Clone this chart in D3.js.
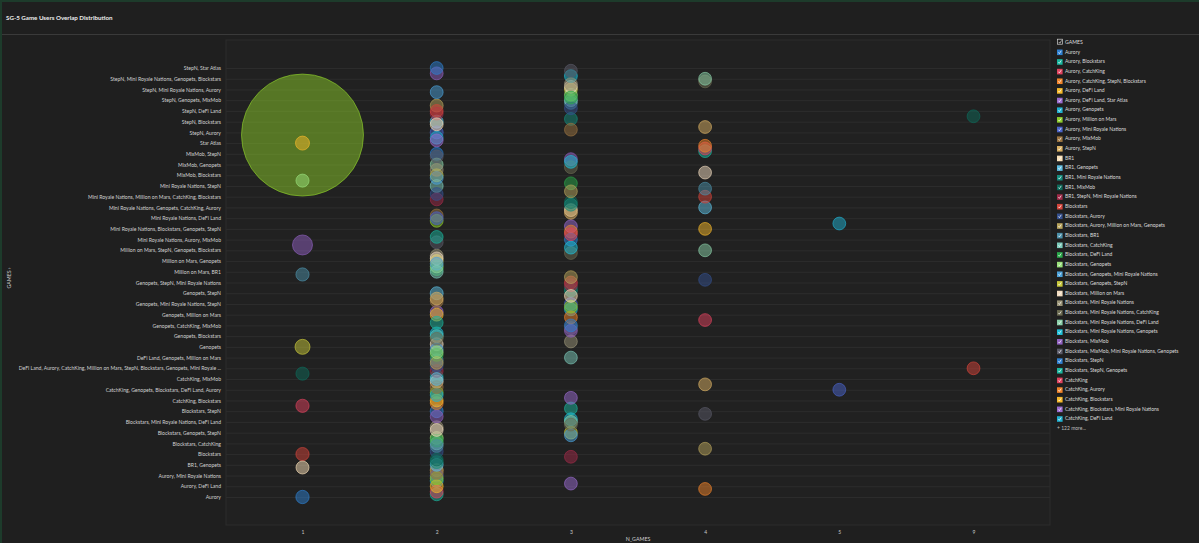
<!DOCTYPE html>
<html><head><meta charset="utf-8">
<script src="https://cdn.jsdelivr.net/npm/d3@7"></script>
<style>
html,body{margin:0;padding:0;background:#1f1f1f;}
svg{display:block;font-family:Lato,"Open Sans",sans-serif;}
</style></head>
<body><svg id="chart" width="1199" height="543"></svg>
<script>
const chartTitle = "SG-5 Game Users Overlap Distribution";
const xTicks = ["1","2","3","4","5","9"];
const games = [
"Aurory","Aurory, Blockstars","Aurory, CatchKing","Aurory, CatchKing, StepN, Blockstars","Aurory, DeFi Land",
"Aurory, DeFi Land, Star Atlas","Aurory, Genopets","Aurory, Million on Mars","Aurory, Mini Royale Nations","Aurory, MixMob",
"Aurory, StepN","BR1","BR1, Genopets","BR1, Mini Royale Nations","BR1, MixMob",
"BR1, StepN, Mini Royale Nations","Blockstars","Blockstars, Aurory","Blockstars, Aurory, Million on Mars, Genopets","Blockstars, BR1",
"Blockstars, CatchKing","Blockstars, DeFi Land","Blockstars, Genopets","Blockstars, Genopets, Mini Royale Nations","Blockstars, Genopets, StepN",
"Blockstars, Million on Mars","Blockstars, Mini Royale Nations","Blockstars, Mini Royale Nations, CatchKing","Blockstars, Mini Royale Nations, DeFi Land","Blockstars, Mini Royale Nations, Genopets",
"Blockstars, MixMob","Blockstars, MixMob, Mini Royale Nations, Genopets","Blockstars, StepN","Blockstars, StepN, Genopets","CatchKing",
"CatchKing, Aurory","CatchKing, Blockstars","CatchKing, Blockstars, Mini Royale Nations","CatchKing, DeFi Land","CatchKing, Genopets",
"CatchKing, Genopets, Blockstars, DeFi Land, Aurory","CatchKing, Million on Mars","CatchKing, Million on Mars, StepN, Genopets","CatchKing, Mini Royale Nations","CatchKing, MixMob",
"CatchKing, StepN","DeFi Land","DeFi Land, Aurory","DeFi Land, Aurory, CatchKing, Million on Mars, StepN, Blockstars, Genopets, Mini Royale Nations, MixMob","DeFi Land, Blockstars",
"DeFi Land, CatchKing","DeFi Land, Genopets","DeFi Land, Genopets, Million on Mars","DeFi Land, Mini Royale Nations","DeFi Land, MixMob",
"DeFi Land, StepN","Genopets","Genopets, Aurory","Genopets, Aurory, StepN","Genopets, BR1",
"Genopets, Blockstars","Genopets, CatchKing","Genopets, CatchKing, Aurory","Genopets, CatchKing, Blockstars","Genopets, CatchKing, MixMob",
"Genopets, DeFi Land","Genopets, DeFi Land, Blockstars, Aurory","Genopets, DeFi Land, StepN","Genopets, Million on Mars","Genopets, Mini Royale Nations",
"Genopets, Mini Royale Nations, Aurory","Genopets, Mini Royale Nations, MixMob","Genopets, Mini Royale Nations, StepN","Genopets, MixMob","Genopets, Star Atlas",
"Genopets, Star Atlas, StepN","Genopets, StepN","Genopets, StepN, Aurory","Genopets, StepN, Blockstars","Genopets, StepN, CatchKing",
"Genopets, StepN, Mini Royale Nations","Genopets, StepN, MixMob, Aurory","Genopets, StepN, Star Atlas","Million on Mars","Million on Mars, BR1",
"Million on Mars, Blockstars","Million on Mars, CatchKing","Million on Mars, DeFi Land","Million on Mars, Genopets","Million on Mars, Mini Royale Nations",
"Million on Mars, StepN","Million on Mars, StepN, Aurory","Million on Mars, StepN, Genopets, Blockstars","Million on Mars, StepN, MixMob","Mini Royale Nations",
"Mini Royale Nations, Aurory","Mini Royale Nations, Aurory, MixMob","Mini Royale Nations, BR1","Mini Royale Nations, BR1, StepN","Mini Royale Nations, Blockstars, Aurory",
"Mini Royale Nations, Blockstars, Genopets, StepN","Mini Royale Nations, Blockstars, StepN","Mini Royale Nations, Blockstars, StepN, Genopets, Aurory","Mini Royale Nations, CatchKing","Mini Royale Nations, DeFi Land",
"Mini Royale Nations, Genopets","Mini Royale Nations, Genopets, Aurory","Mini Royale Nations, Genopets, Blockstars","Mini Royale Nations, Genopets, CatchKing, Aurory","Mini Royale Nations, Genopets, MixMob",
"Mini Royale Nations, Genopets, StepN","Mini Royale Nations, Million on Mars","Mini Royale Nations, Million on Mars, CatchKing, Blockstars","Mini Royale Nations, MixMob","Mini Royale Nations, MixMob, StepN",
"Mini Royale Nations, MixMob, StepN, Genopets","Mini Royale Nations, StepN","Mini Royale Nations, StepN, Aurory","MixMob","MixMob, Aurory",
"MixMob, Blockstars","MixMob, Blockstars, Genopets, StepN","MixMob, DeFi Land","MixMob, DeFi Land, StepN","MixMob, Genopets",
"MixMob, Genopets, Aurory","MixMob, Genopets, StepN","MixMob, Mini Royale Nations","MixMob, StepN","MixMob, StepN, Aurory, Genopets",
"MixMob, StepN, Blockstars, Genopets","MixMob, StepN, Genopets, Aurory","Star Atlas","Star Atlas, Aurory","Star Atlas, StepN",
"StepN","StepN, Aurory","StepN, Aurory, Genopets","StepN, Aurory, MixMob, Genopets","StepN, BR1",
"StepN, Blockstars","StepN, Blockstars, Genopets","StepN, Blockstars, Mini Royale Nations, Genopets, Aurory, CatchKing, DeFi Land, Million on Mars, MixMob","StepN, CatchKing","StepN, DeFi Land",
"StepN, DeFi Land, Aurory","StepN, Genopets","StepN, Genopets, Aurory","StepN, Genopets, MixMob","StepN, Genopets, Star Atlas",
"StepN, Million on Mars, Genopets","StepN, Mini Royale Nations","StepN, Mini Royale Nations, Aurory","StepN, Mini Royale Nations, Blockstars","StepN, Mini Royale Nations, DeFi Land",
"StepN, Mini Royale Nations, Genopets, Aurory","StepN, Mini Royale Nations, Genopets, Blockstars","StepN, Mini Royale Nations, MixMob","StepN, MixMob","StepN, MixMob, Genopets",
"StepN, Star Atlas"
];
const nGames = [
1,2,2,4,2, 3,2,2,2,2, 2,1,2,2,2, 3,1,2,4,2, 2,2,2,3,3, 2,2,3,3,3, 2,4,2,3,1, 2,2,3,2,2,
5,2,4,2,2, 2,1,2,9,2, 2,2,3,2,2, 2,1,2,3,2, 2,2,3,3,3, 2,4,3,2,2, 3,3,3,2,2, 3,2,3,3,3,
3,4,3,1,2, 2,2,2,2,2, 2,3,4,3,1, 2,3,2,3,3, 4,3,5,2,2, 2,3,3,4,3, 3,2,4,2,3, 4,2,3,1,2,
2,4,2,3,2, 3,3,2,2,4, 4,4,1,2,2, 1,2,3,4,2, 2,3,9,2,2, 3,2,3,3,3, 3,2,3,3,3, 4,4,3,2,3,
2
];
const users = [
110,24,18,3,15, 4,30,12,20,9, 26,40,8,7,5, 2,95,22,2,6, 14,10,28,3,4, 9,16,2,3,4, 11,1,33,5,85, 13,12,3,7,10,
1,6,1,9,5, 11,70,9,1,8, 6,14,2,7,4, 12,500,19,4,6, 26,15,3,4,2, 11,1,3,13,17, 4,2,5,8,6, 2,38,6,5,3,
4,1,2,90,5, 10,7,6,12,9, 15,3,1,2,1925, 14,3,6,2,4, 1,5,1,9,8, 16,3,4,1,2, 3,8,1,7,2, 1,21,5,60,8,
10,1,5,2,11, 2,3,9,17,1, 1,1,260,6,9, 120000,34,5,1,8, 40,6,1,14,11, 3,29,6,4,2, 3,18,5,3,2, 1,1,3,12,2,
7
];
const palette = ["#2e7fd0","#1ab59e","#e0425e","#f0832a","#f5b82a","#9a6bd0","#1fb0d0","#8ccc2a",
"#4a63c9","#9c7440","#d9b063","#f9e0b8","#5dbde0","#138c7c","#0d6a5a","#a02a48",
"#d4443a","#34508e","#b8a45c","#4b8fa8","#7ccaba","#2aa84a","#98e07a","#4aa0d8",
"#c8c83a","#f2dcc0","#9a9478","#6a6a50","#8ad0a8","#20c0d8","#9060c0","#5a5a68"];
const legendShown = 39;

const svg = d3.select("#chart");
const W = 1199, H = 543;
svg.append("rect").attr("width", W).attr("height", H).attr("fill", "#1f1f1f");
svg.append("rect").attr("x", 0).attr("y", 0).attr("width", 2).attr("height", H).attr("fill", "#1d3b2b");
svg.append("rect").attr("x", 0).attr("y", 0).attr("width", W).attr("height", 2).attr("fill", "#1d3b2b");
svg.append("text").attr("x", 6).attr("y", 20).attr("fill", "#ececec")
  .attr("font-size", 6.2).attr("font-weight", 700).text(chartTitle);
svg.append("line").attr("x1", 2).attr("x2", W).attr("y1", 34.5).attr("y2", 34.5)
  .attr("stroke", "#3a3a3a").attr("stroke-width", 1);

const P = {l: 226, r: 1050, t: 40, b: 525};
svg.append("rect").attr("x", P.l).attr("y", P.t).attr("width", P.r - P.l).attr("height", P.b - P.t)
  .attr("fill", "#212121").attr("stroke", "#2c2c2c").attr("stroke-width", 1);

const x = d3.scalePoint().domain(xTicks).range([P.l, P.r]).padding(0.57);
const y = d3.scalePoint().domain(games).range([P.b, P.t]).padding(10.45);
const color = d3.scaleOrdinal(games, palette);
const area = d3.scaleLinear().domain([0, d3.max(users)]).range([6.4 * 6.4, 61 * 61]);
const rad = u => Math.sqrt(area(u));

const tickCats = games.filter((d, i) => i % 4 === 0);

svg.append("g").selectAll("line").data(tickCats).join("line")
  .attr("x1", P.l).attr("x2", P.r)
  .attr("y1", d => y(d) + 0.5).attr("y2", d => y(d) + 0.5)
  .attr("stroke", "#2d2d2d").attr("stroke-width", 1);

const yAxis = d3.axisLeft(y).tickValues(tickCats).tickSize(0).tickPadding(0)
  .tickFormat(d => d.length > 90 ? d.slice(0, 87) + " ..." : d);
const gy = svg.append("g").attr("transform", `translate(${P.l - 5},0)`).call(yAxis);
gy.select(".domain").remove();
gy.selectAll("text").attr("fill", "#d2d2d2").attr("font-size", 5.1).attr("font-family", "Lato, sans-serif");

const xAxis = d3.axisBottom(x).tickSize(0).tickPadding(5);
const gx = svg.append("g").attr("transform", `translate(0,${P.b})`).call(xAxis);
gx.select(".domain").remove();
gx.selectAll("text").attr("fill", "#c8c8c8").attr("font-size", 5).attr("font-family", "Lato, sans-serif");

svg.append("text").attr("x", (P.l + P.r) / 2).attr("y", 541).attr("text-anchor", "middle")
  .attr("fill", "#d0d0d0").attr("font-size", 5.3).text("N_GAMES");
svg.append("text").attr("transform", "translate(10,278) rotate(-90)").attr("text-anchor", "middle")
  .attr("dominant-baseline", "middle")
  .attr("fill", "#d0d0d0").attr("font-size", 5.3).text("GAMES \u203A");

const pts = games.map((g, i) => ({g, n: String(nGames[i]), u: users[i], i}))
  .sort((a, b) => d3.descending(a.u, b.u));
svg.append("g").selectAll("circle").data(pts).join("circle")
  .attr("cx", d => x(d.n)).attr("cy", d => y(d.g)).attr("r", d => rad(d.u))
  .attr("fill", d => color(d.g)).attr("fill-opacity", 0.5)
  .attr("stroke", d => color(d.g)).attr("stroke-opacity", 0.8).attr("stroke-width", 0.8);

const L = {x: 1057, y0: 52.3, step: 9.65};
const lg = svg.append("g");
lg.append("rect").attr("x", L.x + 0.5).attr("y", 39.2).attr("width", 5).attr("height", 5)
  .attr("fill", "none").attr("stroke", "#cfcfcf").attr("stroke-width", 0.7);
lg.append("path").attr("d", `M${L.x + 1.8},${42} L${L.x + 2.9},${43.2} L${L.x + 4.6},${40.4}`)
  .attr("fill", "none").attr("stroke", "#e0e0e0").attr("stroke-width", 0.7);
lg.append("text").attr("x", L.x + 8).attr("y", 42.3).attr("dominant-baseline", "middle")
  .attr("fill", "#dcdcdc").attr("font-size", 5.2).text("GAMES");
const items = lg.selectAll("g.item").data(games.slice(0, legendShown)).join("g")
  .attr("class", "item").attr("transform", (d, i) => `translate(${L.x},${L.y0 + i * L.step})`);
items.append("rect").attr("x", 0).attr("y", -2.8).attr("width", 5.6).attr("height", 5.6)
  .attr("fill", d => color(d));
items.append("path").attr("d", "M1.4,0.1 L2.4,1.3 L4.2,-1.5").attr("fill", "none")
  .attr("stroke", "#ffffff").attr("stroke-width", 0.7);
items.append("text").attr("x", 8).attr("y", 0).attr("dominant-baseline", "middle")
  .attr("fill", "#dcdcdc").attr("font-size", 5).text(d => d);
lg.append("text").attr("x", L.x).attr("y", L.y0 + legendShown * L.step + 0.5).attr("dominant-baseline", "middle")
  .attr("fill", "#bdbdbd").attr("font-size", 5).text(`+ ${games.length - legendShown} more...`);
</script></body></html>
